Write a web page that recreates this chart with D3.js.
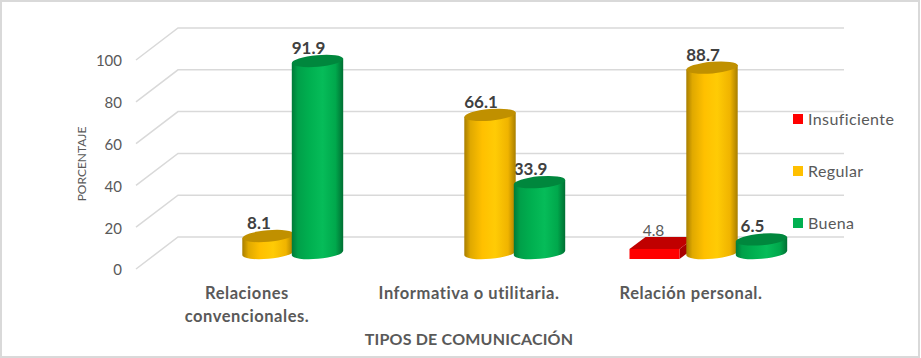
<!DOCTYPE html>
<html>
<head>
<meta charset="utf-8">
<script src="https://cdn.jsdelivr.net/npm/d3@7"></script>
<style>
    html, body { margin: 0; padding: 0; background: #fff; }
    svg { display: block; }
    text { font-family: Lato, "Open Sans", sans-serif; fill: #595959; }
    .tick text { font-size: 15px; }
    .cat { font-size: 16.5px; font-weight: bold; letter-spacing: 0.55px; }
    .title { font-size: 16px; font-weight: bold; letter-spacing: 0.2px; }
    .value { font-size: 17px; font-weight: bold; fill: #404040; }
</style>
</head>
<body>
<div id="chart"></div>
<script>
const categories = ['Relaciones convencionales.', 'Informativa o utilitaria.', 'Relación personal.']
const categoryLines = [['Relaciones', 'convencionales.'], ['Informativa o utilitaria.'], ['Relación personal.']]
const seriesNames = ['Insuficiente', 'Regular', 'Buena']
const insuficiente = [null, null, 4.8]
const regular = [8.1, 66.1, 88.7]
const buena = [91.9, 33.9, 6.5]
const yTicks = [0, 20, 40, 60, 80, 100]

const WIDTH = 921
const HEIGHT = 358
// offset of the back wall from the front plane of the 3d box
const DEPTH = {x: 42, y: -32}
const TILT = 5 * Math.PI / 180
const RX = 25.8
const RY = 5.8

const colors = {
    Insuficiente: {base: '#ff0000', top: '#c00000', side: '#a80000'},
    Regular: {base: '#ffc000', top: '#c09000', stops: ['#a87e00', '#e0a900', '#ffc000', '#ffcb05', '#f0b400', '#a87e00']},
    Buena: {base: '#00b050', top: '#00873d', stops: ['#007a38', '#00a049', '#00b050', '#06bc59', '#00a84c', '#006f33']}
}

const values = {Insuficiente: insuficiente, Regular: regular, Buena: buena}

const svg = d3.select('#chart').append('svg')
    .attr('width', WIDTH)
    .attr('height', HEIGHT)

svg.append('rect')
    .attr('x', 1)
    .attr('y', 1)
    .attr('width', WIDTH - 3)
    .attr('height', HEIGHT - 2)
    .attr('fill', '#fff')
    .attr('stroke', '#d9d9d9')
    .attr('stroke-width', 2)

const xScale = d3.scaleBand().domain(categories).range([136, 802])
const yScale = d3.scaleLinear().domain([0, 100]).range([269, 60])
const seriesScale = d3.scaleBand().domain(seriesNames).range([36.75, 185.25])

// gradients
const defs = svg.append('defs')
for (let name of ['Regular', 'Buena']) {
    let grad = defs.append('linearGradient').attr('id', 'grad' + name)
    let offsets = [0, 0.12, 0.35, 0.6, 0.85, 1]
    colors[name].stops.forEach((c, i) => {
        grad.append('stop').attr('offset', offsets[i]).attr('stop-color', c)
    })
}

// walls
const grid = svg.append('g')
grid.selectAll('polyline')
    .data(yTicks)
    .join('polyline')
    .attr('points', d => {
        let y = yScale(d)
        return [[136, y], [136 + DEPTH.x, y + DEPTH.y], [xScale.range()[1] + DEPTH.x, y + DEPTH.y]].join(' ')
    })
    .attr('fill', 'none')
    .attr('stroke', '#d9d9d9')
    .attr('stroke-width', 1.5)

// y axis
const yAxis = svg.append('g')
    .attr('transform', 'translate(128,1)')
    .call(d3.axisLeft(yScale).tickValues(yTicks).tickSize(0).tickPadding(6))
yAxis.select('.domain').remove()

svg.append('text')
    .text('PORCENTAJE')
    .attr('transform', 'translate(86,164) rotate(-90)')
    .attr('text-anchor', 'middle')
    .style('font-size', '12px')

// category labels
categories.forEach((c, i) => {
    categoryLines[i].forEach((line, j) => {
        svg.append('text')
            .attr('class', 'cat')
            .attr('x', xScale(c) + xScale.bandwidth() / 2)
            .attr('y', 299 + j * 23)
            .attr('text-anchor', 'middle')
            .text(line)
    })
})

svg.append('text')
    .attr('class', 'title')
    .text('TIPOS DE COMUNICACIÓN')
    .attr('x', 469)
    .attr('y', 345)
    .attr('text-anchor', 'middle')

const rows = []
for (let name of seriesNames) {
    categories.forEach((c, i) => {
        if (values[name][i] !== null) rows.push({name: name, category: c, value: values[name][i]})
    })
}

const centerX = d => xScale(d.category) + seriesScale(d.name) + seriesScale.bandwidth() / 2 + DEPTH.x / 2
const baseY = yScale(0) + DEPTH.y / 2
const topY = d => yScale(d.value) + DEPTH.y / 2

// labels go under the bars, the yellow one covers part of 33.9
svg.append('g').selectAll('text')
    .data(rows)
    .join('text')
    .attr('class', 'value')
    .attr('x', d => centerX(d) - 9)
    .attr('y', d => topY(d) - 7)
    .attr('text-anchor', 'middle')
    .style('font-weight', d => d.name === 'Insuficiente' ? 'normal' : 'bold')
    .style('font-size', d => d.name === 'Insuficiente' ? '15.5px' : '17px')
    .style('fill', d => d.name === 'Insuficiente' ? '#595959' : '#404040')
    .text(d => d.value.toFixed(1))

const dx = RX * Math.cos(TILT)
const dy = RX * Math.sin(TILT)
const rotation = -TILT * 180 / Math.PI

function cylinderPath(d) {
    let cx = centerX(d)
    let t = topY(d)
    return `M${cx - dx},${t + dy} L${cx - dx},${baseY + dy} ` +
        `A${RX},${RY} ${rotation} 0 0 ${cx + dx},${baseY - dy} ` +
        `L${cx + dx},${t - dy} Z`
}

const bars = svg.append('g')
for (let d of rows) {
    if (d.name === 'Insuficiente') {
        // this series is a plain box
        let x0 = centerX(d) - 33
        let x1 = centerX(d) + 17
        let yFront = yScale(0) - 10
        let yTop = yFront - (yScale(0) - yScale(d.value))
        let off = {x: 16, y: -12}
        bars.append('polygon')
            .attr('points', [[x1, yTop], [x1 + off.x, yTop + off.y], [x1 + off.x, yFront + off.y], [x1, yFront]].join(' '))
            .attr('fill', colors[d.name].side)
        bars.append('polygon')
            .attr('points', [[x0, yTop], [x1, yTop], [x1 + off.x, yTop + off.y], [x0 + off.x, yTop + off.y]].join(' '))
            .attr('fill', colors[d.name].top)
        bars.append('rect')
            .attr('x', x0)
            .attr('y', yTop)
            .attr('width', x1 - x0)
            .attr('height', yFront - yTop)
            .attr('fill', colors[d.name].base)
    } else {
        bars.append('path')
            .attr('d', cylinderPath(d))
            .attr('fill', `url(#grad${d.name})`)
        bars.append('ellipse')
            .attr('rx', RX)
            .attr('ry', RY)
            .attr('transform', `translate(${centerX(d)},${topY(d)}) rotate(${rotation})`)
            .attr('fill', colors[d.name].top)
    }
}

// legend
const legendY = d3.scalePoint().domain(seriesNames).range([119, 223])
const legend = svg.append('g')
legend.selectAll('rect')
    .data(seriesNames)
    .join('rect')
    .attr('x', 793)
    .attr('y', d => legendY(d) - 5)
    .attr('width', 10)
    .attr('height', 10)
    .attr('fill', d => colors[d].base)
legend.selectAll('text')
    .data(seriesNames)
    .join('text')
    .attr('x', 808)
    .attr('y', d => legendY(d) + 6)
    .style('font-size', '16px')
    .style('letter-spacing', '0.4px')
    .text(d => d)
</script>
</body>
</html>
